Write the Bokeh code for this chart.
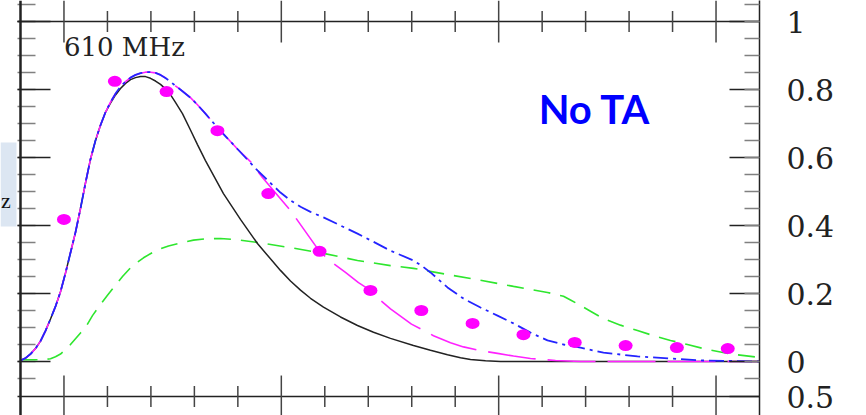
from bokeh.plotting import figure
from bokeh.models import Range1d, LinearAxis, FixedTicker, Span, BoxAnnotation
from bokeh.core.properties import value
from bokeh.embed import file_html
from bokeh.resources import INLINE

# ---------------- data ----------------
# model curves for the 610 MHz panel (normalised flux)
rise_x = [-1.0, -0.885, -0.77, -0.655, -0.54, -0.425, -0.31, -0.195, -0.08, 0.035, 0.15, 0.265,
          0.38, 0.495, 0.61, 0.725, 0.84, 0.955]
rise_y = [0.003, 0.01, 0.022, 0.038, 0.06, 0.09, 0.125, 0.162, 0.205, 0.26, 0.32, 0.38,
          0.45, 0.525, 0.595, 0.65, 0.695, 0.733]

black_x = rise_x + [1.07, 1.186, 1.3, 1.416, 1.531, 1.646, 1.761, 1.876, 1.991, 2.106, 2.221,
                    2.335, 2.45, 2.565, 2.726, 2.91, 3.071, 3.255, 3.669, 4.06, 4.451, 4.75, 4.98,
                    5.211, 5.441, 5.671, 5.97, 6.361, 6.752, 7.121, 7.511, 8.04, 8.431, 8.823,
                    9.122, 9.352, 9.697, 10.042, 16.0]
black_y = rise_y + [0.76, 0.784, 0.803, 0.818, 0.829, 0.835, 0.838, 0.838, 0.833, 0.825, 0.815,
                    0.802, 0.785, 0.762, 0.729, 0.681, 0.638, 0.591, 0.494, 0.418, 0.347, 0.302,
                    0.268, 0.237, 0.21, 0.186, 0.16, 0.131, 0.106, 0.086, 0.068, 0.047, 0.033,
                    0.02, 0.011, 0.006, 0.002, 0.0, 0.0]

peak_x = [1.07, 1.186, 1.3, 1.416, 1.531, 1.646, 1.761, 1.876, 1.991, 2.106, 2.221, 2.335, 2.45,
          2.565, 2.726, 2.91, 3.071, 3.255, 3.531, 3.991]
peak_y = [0.763, 0.788, 0.808, 0.823, 0.835, 0.843, 0.848, 0.851, 0.851, 0.849, 0.843, 0.834, 0.823,
          0.811, 0.795, 0.776, 0.755, 0.729, 0.688, 0.625]

blue_x = rise_x + peak_x + [4.451, 4.75, 4.98, 5.211, 5.441, 5.671, 5.97, 6.361, 6.752, 7.121,
                            7.511, 8.04, 8.235, 8.431, 8.823, 9.191, 9.582, 9.973, 10.341, 10.732,
                            11.123, 11.491, 11.882, 12.411, 13.193, 13.952, 14.711, 16.0]
blue_y = rise_y + peak_y + [0.562, 0.525, 0.497, 0.474, 0.455, 0.44, 0.424, 0.40, 0.376, 0.352,
                            0.326, 0.297, 0.281, 0.262, 0.218, 0.185, 0.159, 0.135, 0.112, 0.085,
                            0.062, 0.05, 0.041, 0.026, 0.015, 0.009, 0.003, 0.0]

magenta_x = rise_x + peak_x + [4.29, 4.566, 4.819, 4.98, 5.211, 5.556, 5.878, 6.039, 6.2, 6.476,
                               6.775, 7.051, 7.281, 7.511, 7.994, 8.5, 8.892, 9.191, 9.582, 9.973,
                               10.341, 10.732, 11.307, 11.882, 16.0]
magenta_y = rise_y + peak_y + [0.588, 0.541, 0.503, 0.479, 0.444, 0.382, 0.324, 0.306, 0.288, 0.262,
                               0.232, 0.209, 0.18, 0.155, 0.11, 0.076, 0.055, 0.043, 0.032, 0.024,
                               0.016, 0.009, 0.003, 0.0, 0.0]

green_x = [-1.0, -0.54, -0.31, -0.195, -0.08, 0.035, 0.15, 0.265, 0.38, 0.495, 0.656, 0.84, 1.001,
           1.163, 1.347, 1.554, 1.83, 2.106, 2.404, 2.726, 2.979, 3.255, 3.6, 4.06, 4.451, 5.211,
           5.97, 6.752, 7.511, 8.04, 8.823, 9.582, 10.341, 11.123, 11.491, 11.652, 11.882, 12.112,
           12.411, 12.802, 13.193, 13.561, 13.952, 14.343, 14.711, 15.332, 16.0]
green_y = [0.005, 0.005, 0.008, 0.014, 0.022, 0.035, 0.05, 0.067, 0.084, 0.10, 0.135, 0.168, 0.195,
           0.221, 0.25, 0.279, 0.305, 0.326, 0.34, 0.35, 0.357, 0.361, 0.362, 0.357, 0.35, 0.335,
           0.318, 0.297, 0.282, 0.274, 0.256, 0.239, 0.221, 0.203, 0.192, 0.181, 0.165, 0.148,
           0.126, 0.107, 0.091, 0.076, 0.062, 0.05, 0.038, 0.022, 0.012]

# observed points
obs_x = [0.0, 1.17, 2.36, 3.53, 4.7, 5.88, 7.05, 8.22, 9.4, 10.57, 11.75, 12.92, 14.1, 15.27]
obs_y = [0.418, 0.824, 0.794, 0.679, 0.494, 0.324, 0.209, 0.15, 0.112, 0.079, 0.056, 0.047, 0.041, 0.038]

# ticks
y_tick_values = [0.0, 0.2, 0.4, 0.6, 0.8, 1.0]
y_tick_labels = ["0", "0.2", "0.4", "0.6", "0.8", "1"]
y_minor_values = [round(-0.05 + 0.05 * i, 2) for i in range(23)]
x_major_values = [0, 5, 10, 15]
x_minor_values = [1, 2, 3, 4, 6, 7, 8, 9, 11, 12, 13, 14]

panel_top = 1.0
panel_bottom = -0.103      # edge shared with the panel below
panel_left = -1.0
lower_panel_label = "0.5"  # top value of the panel below

# ---------------- figure ----------------
X_START, X_END = -1.46, 16.0
Y_START, Y_END = -0.1588, 1.0618
W, H, RIGHT_BORDER = 866, 415, 107
px_x = (W - RIGHT_BORDER) / (X_END - X_START)
px_y = H / (Y_END - Y_START)

p = figure(width=W, height=H, x_range=Range1d(X_START, X_END), y_range=Range1d(Y_START, Y_END),
           x_axis_type=None, y_axis_type=None, toolbar_location=None, output_backend="svg",
           min_border=0, min_border_right=RIGHT_BORDER, outline_line_color=None,
           background_fill_color="white", border_fill_color="white")

AX = "#222222"
MINOR = "#808080"

# right axis with labels
ticks_all = y_tick_values + [panel_bottom]
labels_all = y_tick_labels + [lower_panel_label]
right_axis = LinearAxis(
    ticker=FixedTicker(ticks=ticks_all, minor_ticks=y_minor_values),
    major_label_overrides={v: s for v, s in zip(ticks_all, labels_all)},
    axis_line_color=AX, axis_line_width=1.5,
    major_tick_in=30, major_tick_out=0, minor_tick_in=15, minor_tick_out=0,
    major_tick_line_color=AX, major_tick_line_width=1.5,
    minor_tick_line_color=MINOR, minor_tick_line_width=1.5,
    major_label_standoff=27, major_label_text_font="DejaVu Serif",
    major_label_text_font_size="30px", major_label_text_color=AX)
p.add_layout(right_axis, "right")

# label box of the neighbouring panel, cut by the left edge
p.add_layout(BoxAnnotation(left=X_START, right=panel_left - 4 / px_x, bottom=0.397, top=0.644,
                           fill_color="#dce6f2", fill_alpha=1.0, line_color=None, level="underlay"))
p.text(x=[X_START + 0.5 / px_x], y=[0.474], text=["z"], text_align="left",
       text_baseline="middle", text_font=value("Liberation Serif"), text_font_size="22px",
       text_color="#111111")

# left spine and its ticks
p.add_layout(Span(location=panel_left, dimension="height", line_color=AX, line_width=2.5))
p.segment(x0=[panel_left - 3 / px_x] * len(y_minor_values), y0=y_minor_values,
          x1=[panel_left + 15 / px_x] * len(y_minor_values), y1=y_minor_values,
          line_color=MINOR, line_width=1.5)
p.segment(x0=[panel_left - 3 / px_x] * len(y_tick_values), y0=y_tick_values,
          x1=[panel_left + 30 / px_x] * len(y_tick_values), y1=y_tick_values,
          line_color=AX, line_width=1.5)

# top and bottom panel edges with ticks on both sides
for yb in (panel_top, panel_bottom):
    p.segment(x0=[panel_left - 3 / px_x], y0=[yb], x1=[X_END], y1=[yb], line_color=AX, line_width=1.5)
    p.segment(x0=x_minor_values, y0=[yb - 10.5 / px_y] * len(x_minor_values),
              x1=x_minor_values, y1=[yb + 10.5 / px_y] * len(x_minor_values),
              line_color="#444444", line_width=1.5)
    p.segment(x0=x_major_values, y0=[yb - 21 / px_y] * len(x_major_values),
              x1=x_major_values, y1=[yb + 21 / px_y] * len(x_major_values),
              line_color="#444444", line_width=1.5)

# curves
p.line(green_x, green_y, line_color="#2ee62e", line_width=1.6, line_dash="17 10")
p.line(black_x, black_y, line_color="#222222", line_width=1.5)
p.line(magenta_x, magenta_y, line_color="#ff22ff", line_width=1.6, line_dash="48 12")
p.line(blue_x, blue_y, line_color="#2424ff", line_width=1.8, line_dash="15 5 3 5")

# observed points
p.ellipse(x=obs_x, y=obs_y, width=14, height=11, width_units="screen", height_units="screen",
          fill_color="#ff00ff", line_color=None)

# annotations
p.text(x=[0.0], y=[0.925], text=["610 MHz"], text_align="left", text_baseline="middle",
       text_font=value("DejaVu Serif"), text_font_size="26px", text_color="#222222")
p.text(x=[10.92], y=[0.744], text=["No TA"], text_align="left", text_baseline="middle",
       text_font=value("Lato"), text_font_style="bold", text_font_size="40px", text_color="#0000ff")

open("out.html", "w").write(file_html(p, INLINE))
